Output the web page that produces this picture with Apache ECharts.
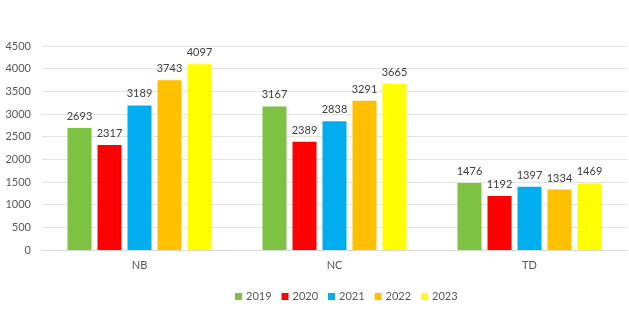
<!DOCTYPE html>
<html><head><meta charset="utf-8">
<script src="https://cdn.jsdelivr.net/npm/echarts@6/dist/echarts.min.js"></script>
<style>html,body{margin:0;padding:0;background:#fff}#c{width:629px;height:325px}</style>
</head><body><div id="c"></div>
<script>
const categories = ['NB', 'NC', 'TD'];
const seriesNames = ['2019', '2020', '2021', '2022', '2023'];
const v2019 = [2693, 3167, 1476];
const v2020 = [2317, 2389, 1192];
const v2021 = [3189, 2838, 1397];
const v2022 = [3743, 3291, 1334];
const v2023 = [4097, 3665, 1469];
const colors = ['#7DC243', '#FF0000', '#00AEEF', '#FFC000', '#FFFF00'];
const values = [v2019, v2020, v2021, v2022, v2023];
const font = 'Lato, "Liberation Sans", sans-serif';

const chart = echarts.init(document.getElementById('c'), null, {renderer: 'canvas'});
chart.setOption({
  animation: false,
  backgroundColor: '#fff',
  grid: {left: 42, right: 2, top: 46, bottom: 75, containLabel: false},
  legend: {
    bottom: 18, left: 230,
    itemWidth: 7, itemHeight: 7, itemGap: 10,
    icon: 'rect',
    textStyle: {color: '#595959', fontSize: 11, fontFamily: font, padding: [0, 0, 0, -1]},
    data: seriesNames
  },
  xAxis: {
    type: 'category', data: categories,
    axisLine: {lineStyle: {color: '#d9d9d9'}},
    axisTick: {show: false},
    axisLabel: {color: '#595959', fontSize: 11, fontFamily: font, margin: 10}
  },
  yAxis: {
    type: 'value', min: 0, max: 4500, interval: 500,
    axisLine: {show: false}, axisTick: {show: false},
    splitLine: {lineStyle: {color: '#e3e3e3'}},
    axisLabel: {color: '#595959', fontSize: 11, fontFamily: font, margin: 11, formatter: v => String(v)}
  },
  series: seriesNames.map((n, i) => ({
    name: n, type: 'bar', data: values[i],
    barWidth: 24, barGap: '25%',
    itemStyle: {color: colors[i]},
    label: {show: true, position: 'top', distance: 6, color: '#404040', fontSize: 11, fontFamily: font}
  }))
});
</script></body></html>
